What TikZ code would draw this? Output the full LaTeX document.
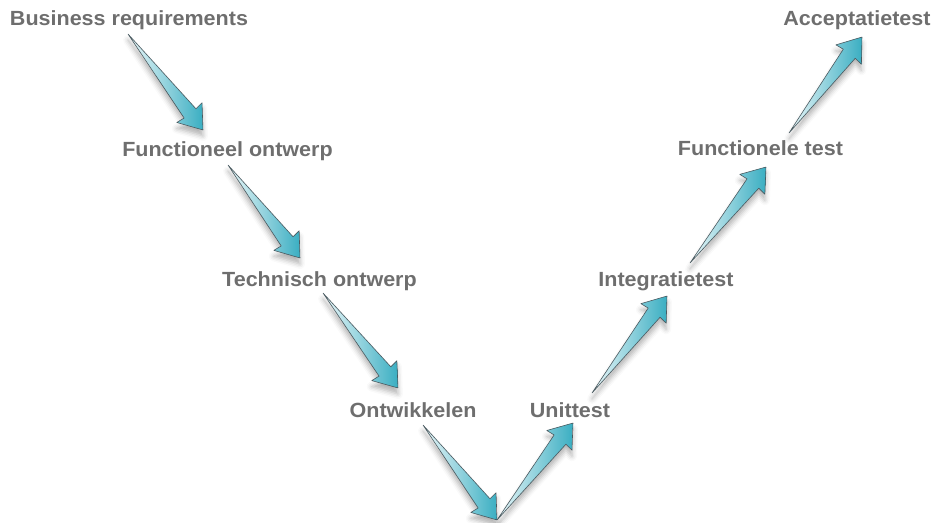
\documentclass[tikz,border=0pt]{standalone}
\usepackage{fontspec}
\setmainfont{Liberation Sans}[FakeStretch=1.05]
\usetikzlibrary{calc,shadows.blur}
\definecolor{labelgray}{HTML}{6E6E6E}
\definecolor{arrowteal}{HTML}{3AAEC2}
\definecolor{arrowline}{HTML}{4A5A60}
\tikzset{
  lbl/.style={font=\bfseries\fontsize{20.5}{20.5}\selectfont, text=labelgray, inner sep=0pt, anchor=base},
  arrowbody/.style={left color=arrowteal!10, right color=arrowteal, draw=arrowline, line width=0.6pt, line join=round,
    blur shadow={shadow xshift=0pt, shadow yshift=-6pt, shadow opacity=30, shadow blur radius=5pt}}
}
\newcommand\vshape[2]{%
  \path let \p1=($(#2)-(#1)$) in \pgfextra{\pgfmathsetmacro\vang{atan2(\y1,\x1)}\pgfmathsetmacro\vlen{veclen(\x1,\y1)}\global\let\vAng\vang\global\let\vLen\vlen};
  \begin{scope}[shift={(#1)}, rotate=\vAng]
    \path[arrowbody] (0pt,0pt) -- ({\vLen pt-21pt},7.5pt) -- ({\vLen pt-22pt},16pt) -- (\vLen pt,0pt) -- ({\vLen pt-22pt},-16pt) -- ({\vLen pt-21pt},-7.5pt) -- cycle;
  \end{scope}}
\begin{document}
\begin{tikzpicture}[x=1pt,y=-1pt]
\useasboundingbox (0,0) rectangle (934,522);
\node[lbl] (br) at (129,25) {Business requirements};
\node[lbl] (fo) at (227.5,156) {Functioneel ontwerp};
\node[lbl] (to) at (319.5,286) {Technisch ontwerp};
\node[lbl] (ow) at (413,417) {Ontwikkelen};
\node[lbl] (ut) at (570,417) {Unittest};
\node[lbl] (it) at (666,286) {Integratietest};
\node[lbl] (ft) at (760.5,155) {Functionele test};
\node[lbl] (at) at (857,25) {Acceptatietest};
\coordinate (a1t) at (128,34);  \coordinate (a1h) at (203,130);
\coordinate (a2t) at (228,165); \coordinate (a2h) at (300,258);
\coordinate (a3t) at (323,293); \coordinate (a3h) at (398,388);
\coordinate (a4t) at (423,425); \coordinate (a4h) at (497,520);
\coordinate (a5t) at (497,520); \coordinate (a5h) at (573,423);
\coordinate (a6t) at (592,393); \coordinate (a6h) at (667,296);
\coordinate (a7t) at (690,263); \coordinate (a7h) at (766,167);
\coordinate (a8t) at (789,133); \coordinate (a8h) at (862,37);
\vshape{a1t}{a1h}
\vshape{a2t}{a2h}
\vshape{a3t}{a3h}
\vshape{a4t}{a4h}
\vshape{a5t}{a5h}
\vshape{a6t}{a6h}
\vshape{a7t}{a7h}
\vshape{a8t}{a8h}
\end{tikzpicture}
\end{document}
